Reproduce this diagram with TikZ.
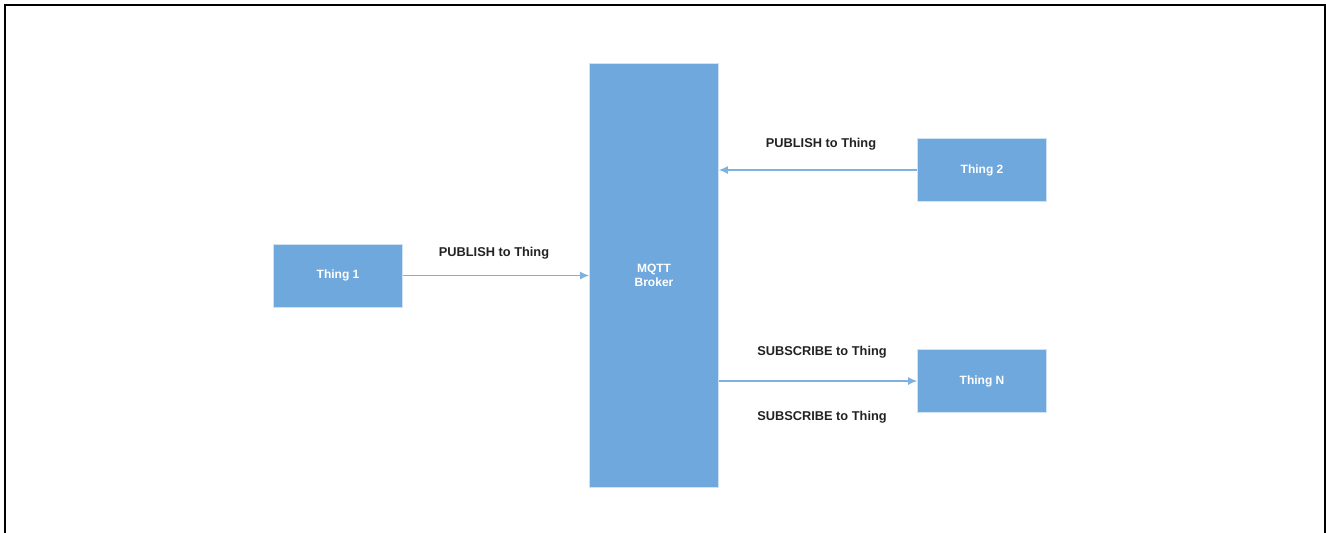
\documentclass[tikz,border=0pt]{standalone}
\usepackage{fontspec}
\setmainfont{Liberation Sans}
\usepackage{tikz}
\usetikzlibrary{positioning,arrows.meta,calc}
\definecolor{boxblue}{HTML}{6FA8DC}
\definecolor{boxedge}{HTML}{CFE3F5}
\definecolor{linkblue}{HTML}{7DB2E0}
\definecolor{lbltext}{HTML}{222222}
\tikzset{
thing/.style={
  draw=boxedge,
  line width=0.8pt,
  fill=boxblue,
  rectangle,
  inner sep=0pt,
  minimum width=129pt,
  minimum height=63pt,
  text=white,
  font=\bfseries\fontsize{12}{14}\selectfont,
  align=center
},
broker/.style={thing, minimum height=424pt},
link/.style={draw=linkblue, line width=1.2pt, -{Latex[length=9pt,width=8pt]}},
lbl/.style={text=lbltext, font=\bfseries\fontsize{12.8}{14}\selectfont, inner sep=0pt},
}

\begin{document}
\begin{tikzpicture}[x=1pt,y=-1pt]
                \useasboundingbox (0,0) rectangle (1326,533);
                \draw[line width=2pt] (5,533) -- (5,5) -- (1325,5) -- (1325,533);
                % boxes
                \node[broker] (mqtt) at (654,275.5) {MQTT\\Broker};
                \node[thing] (thing1) at (338,275.5) {Thing 1};
                \node[thing] (thing2) at (982,170) {Thing 2};
                \node[thing] (thingN) at (982,381) {Thing N};
                % labels
                \node[lbl] (pub1) at (494,253) {PUBLISH to Thing};
                \node[lbl] (pub2) at (821,144) {PUBLISH to Thing};
                \node[lbl] (sub1) at (822,352) {SUBSCRIBE to Thing};
                \node[lbl] (sub2) at (822,417) {SUBSCRIBE to Thing};
                % arrows
                \draw[link] (thing1.east) -- (thing1.east -| mqtt.west);
                \draw[link] (thing2.west) -- (thing2.west -| mqtt.east);
                \draw[link] (thingN.west -| mqtt.east) -- (thingN.west);
            \end{tikzpicture}
\end{document}
